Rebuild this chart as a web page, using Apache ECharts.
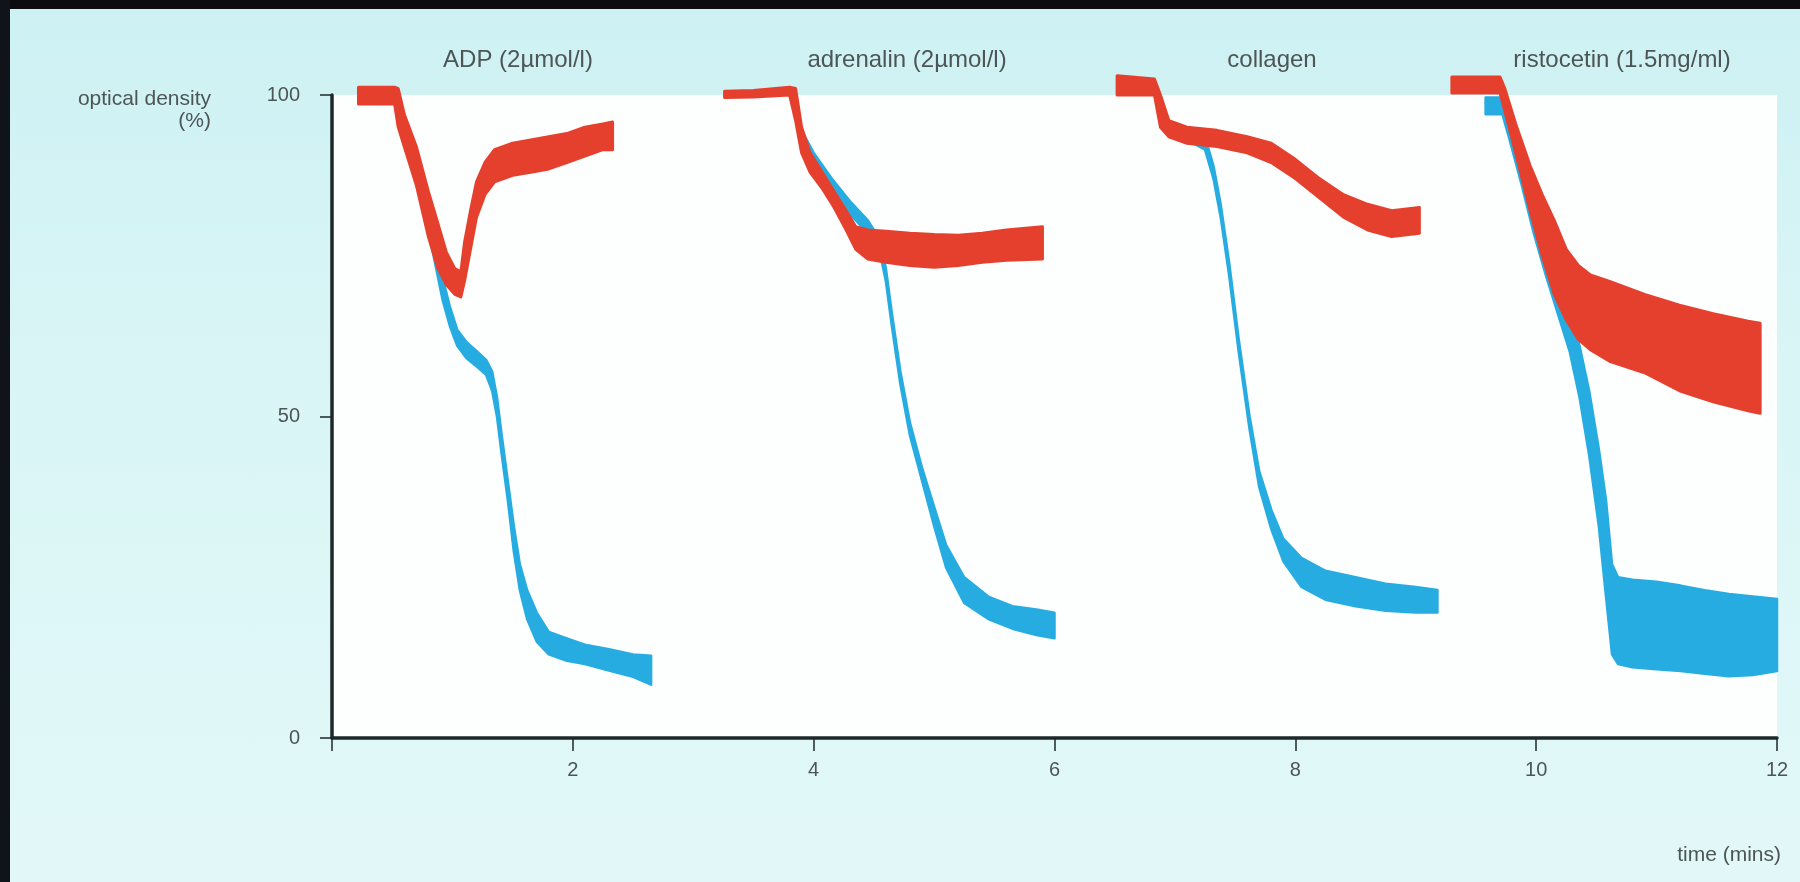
<!DOCTYPE html>
<html>
<head>
<meta charset="utf-8">
<script src="https://cdn.jsdelivr.net/npm/echarts@6/dist/echarts.min.js"></script>
<style>
html,body{margin:0;padding:0;}
body{background:linear-gradient(180deg,#cdf1f3 0%,#d9f5f6 40%,#e2f8f8 100%);}
#chart{width:1800px;height:882px;}
</style>
</head>
<body>
<div id="chart"></div>
<script>
// ---- data (time in minutes, optical density % : [t, lower edge, upper edge]) ----
const panelTitles = ['ADP (2µmol/l)', 'adrenalin (2µmol/l)', 'collagen', 'ristocetin (1.5mg/ml)'];
const xTickValues = [0, 2, 4, 6, 8, 10, 12];
const yTickValues = [0, 50, 100];
const xAxisTitle = 'time (mins)';
const yAxisTitle = 'optical density\n(%)';

const adpBlue = [
  [0.55, 96, 99], [0.62, 92, 95], [0.70, 86.5, 89.5], [0.80, 79, 82.5], [0.86, 73.5, 77],
  [0.92, 68, 71.5], [0.98, 64, 67], [1.04, 61, 63.5], [1.12, 59, 61.5], [1.20, 57.8, 60.2],
  [1.28, 56.5, 58.8], [1.33, 54, 57], [1.37, 50, 53], [1.41, 44, 47], [1.46, 37, 40],
  [1.51, 29, 33], [1.56, 23, 27], [1.62, 18.5, 23], [1.70, 15, 19.5], [1.80, 13, 16.5],
  [1.95, 12, 15.5], [2.10, 11.5, 14.5], [2.30, 10.5, 13.8], [2.50, 9.5, 13], [2.65, 8.3, 12.8]
];
const adpRed = [
  [0.22, 98.6, 101.2], [0.52, 98.6, 101.2], [0.55, 95, 101], [0.60, 92, 97], [0.70, 86, 92],
  [0.80, 78, 85], [0.88, 73, 80], [0.95, 70.5, 75.5], [1.02, 69, 73], [1.07, 68.6, 72.5],
  [1.10, 71, 77], [1.15, 76, 82], [1.20, 81, 86.5], [1.27, 84.5, 89.5], [1.35, 86.5, 91.5],
  [1.50, 87.5, 92.5], [1.65, 88, 93], [1.80, 88.5, 93.5], [1.95, 89.5, 94], [2.10, 90.5, 95],
  [2.25, 91.5, 95.5], [2.33, 91.5, 95.8]
];
const adrenalinBlue = [
  [3.84, 97.5, 100], [3.90, 92.5, 94.5], [4.00, 89, 91], [4.15, 85, 87], [4.30, 81.5, 83.5],
  [4.45, 78.5, 80.5], [4.55, 75.5, 77.5], [4.60, 71, 73], [4.65, 64, 66], [4.72, 55, 57],
  [4.80, 47, 49], [4.90, 40, 42], [5.00, 33, 36], [5.10, 26.5, 30], [5.25, 21, 25],
  [5.45, 18.5, 22], [5.65, 17, 20.5], [5.85, 16, 20], [6.00, 15.5, 19.5]
];
const adrenalinRed = [
  [3.26, 99.6, 100.6], [3.50, 99.7, 100.7], [3.80, 100, 101.2], [3.85, 96, 101], [3.90, 91, 95],
  [3.97, 88, 91], [4.07, 85.5, 88], [4.17, 82.5, 85], [4.27, 79, 82], [4.35, 76, 79.5],
  [4.45, 74.5, 79], [4.60, 74, 78.8], [4.80, 73.5, 78.5], [5.00, 73.2, 78.3], [5.20, 73.5, 78.2],
  [5.40, 74, 78.5], [5.60, 74.3, 79], [5.90, 74.5, 79.5]
];
const collagenBlue = [
  [6.85, 99, 101], [6.90, 95, 98], [6.95, 93.5, 95.5], [7.10, 93, 94.5], [7.25, 91.5, 93.5],
  [7.32, 87, 89], [7.38, 81, 83], [7.45, 72, 74], [7.53, 60, 62], [7.62, 48, 50],
  [7.70, 39, 41.5], [7.80, 32.5, 35.5], [7.90, 27.5, 31], [8.05, 23.5, 28], [8.25, 21.5, 26],
  [8.50, 20.5, 25], [8.75, 19.8, 24], [9.00, 19.5, 23.5], [9.18, 19.5, 23]
];
const collagenRed = [
  [6.52, 100, 103], [6.83, 100, 102.5], [6.88, 95, 100], [6.95, 93.5, 96], [7.10, 92.5, 95],
  [7.35, 92, 94.5], [7.60, 91, 93.5], [7.80, 89.5, 92.5], [8.00, 87, 90], [8.20, 84, 87],
  [8.40, 81, 84.5], [8.60, 79, 83], [8.80, 78, 82], [9.03, 78.5, 82.5]
];
const ristocetinBlue = [
  [9.58, 97, 99.6], [9.72, 97, 99.6], [9.78, 93, 98], [9.88, 86, 92], [9.98, 78.5, 85],
  [10.08, 72, 79], [10.18, 66, 73.5], [10.28, 60, 67.5], [10.36, 53, 61], [10.44, 44, 54],
  [10.52, 33, 45], [10.58, 22, 37], [10.63, 13, 27], [10.68, 11.5, 25], [10.80, 11, 24.6],
  [11.00, 10.7, 24.3], [11.20, 10.4, 23.7], [11.40, 10, 23], [11.60, 9.6, 22.4], [11.80, 9.8, 22],
  [12.00, 10.4, 21.6]
];
const ristocetinRed = [
  [9.30, 100.3, 102.8], [9.70, 100.3, 102.8], [9.74, 97.5, 101], [9.83, 91, 95.5], [9.95, 82, 89],
  [10.05, 75, 84.5], [10.15, 69, 80.5], [10.25, 65, 76], [10.35, 62, 73.5], [10.45, 60.4, 72],
  [10.61, 58.6, 71], [10.90, 56.8, 69], [11.19, 54, 67.3], [11.47, 52.3, 66], [11.76, 50.9, 64.8],
  [11.86, 50.5, 64.5]
];

// ---- styling / layout ----
const RED = '#e5402e';
const BLUE = '#26ace1';
const AXIS = '#1d2828';
const TEXT = '#4d5555';
const FONT = 'Liberation Sans, Arial, sans-serif';

const blueTraces = [adpBlue, adrenalinBlue, collagenBlue, ristocetinBlue];
const redTraces = [adpRed, adrenalinRed, collagenRed, ristocetinRed];

// Each trace is drawn as one filled band (upper edge forward, lower edge back),
// positioned through the cartesian axes with api.coord.
function bandSeries(trace, color, name, lw, z) {
  return {
    type: 'custom', name: name, silent: true, z: z, clip: false,
    coordinateSystem: 'cartesian2d',
    encode: { x: 0, y: [1, 2] },
    data: trace,
    renderItem: function (params, api) {
      if (params.dataIndex !== 0) return null;
      const upper = trace.map(p => api.coord([p[0], p[2]]));
      const lower = trace.map(p => api.coord([p[0], p[1]])).reverse();
      return {
        type: 'polygon',
        shape: { points: upper.concat(lower) },
        style: { fill: color, stroke: color, lineWidth: lw, lineJoin: 'round' }
      };
    }
  };
}

const series = [];
blueTraces.forEach((t, i) => series.push(bandSeries(t, BLUE, 'blue' + i, 2.5, 3)));
redTraces.forEach((t, i) => series.push(bandSeries(t, RED, 'red' + i, 3, 4)));

const titleCenters = [513, 902, 1267, 1617];
const titles = panelTitles.map((txt, i) => ({
  text: txt, left: titleCenters[i], top: 43, textAlign: 'center',
  textStyle: { fontFamily: FONT, fontSize: 24, fontWeight: 'normal', color: TEXT }
}));
titles.push({
  text: yAxisTitle, left: 206, top: 83, textAlign: 'right',
  textStyle: { fontFamily: FONT, fontSize: 21, fontWeight: 'normal', color: TEXT, lineHeight: 22, align: 'right' }
});
titles.push({
  text: xAxisTitle, right: 14, top: 840,
  textStyle: { fontFamily: FONT, fontSize: 21, fontWeight: 'normal', color: TEXT }
});

const chart = echarts.init(document.getElementById('chart'), null, { renderer: 'canvas' });
chart.setOption({
  backgroundColor: 'transparent',
  animation: false,
  title: titles,
  grid: {
    left: 332, right: 23, top: 95, bottom: 144,
    show: true, backgroundColor: '#fdfefe', borderWidth: 0
  },
  xAxis: {
    type: 'value', min: xTickValues[0], max: xTickValues[xTickValues.length - 1], interval: 2,
    axisLine: { show: true, lineStyle: { color: AXIS, width: 3.5 } },
    axisTick: { show: true, length: 13, lineStyle: { color: AXIS, width: 1.5 } },
    axisLabel: {
      margin: 22, color: TEXT, fontFamily: FONT, fontSize: 20,
      formatter: v => (v === 0 ? '' : String(v))
    },
    splitLine: { show: false }
  },
  yAxis: {
    type: 'value', min: yTickValues[0], max: yTickValues[yTickValues.length - 1], interval: 50,
    axisLine: { show: true, lineStyle: { color: AXIS, width: 3.5 } },
    axisTick: { show: true, length: 12, lineStyle: { color: AXIS, width: 1.5 } },
    axisLabel: { margin: 32, color: TEXT, fontFamily: FONT, fontSize: 20 },
    splitLine: { show: false }
  },
  graphic: [
    { type: 'rect', left: 0, top: 0, shape: { width: 1800, height: 9 }, style: { fill: '#0b0b10' }, z: 100 },
    { type: 'rect', left: 0, top: 0, shape: { width: 10, height: 882 }, style: { fill: '#10131a' }, z: 100 }
  ],
  series: series
});
</script>
</body>
</html>
